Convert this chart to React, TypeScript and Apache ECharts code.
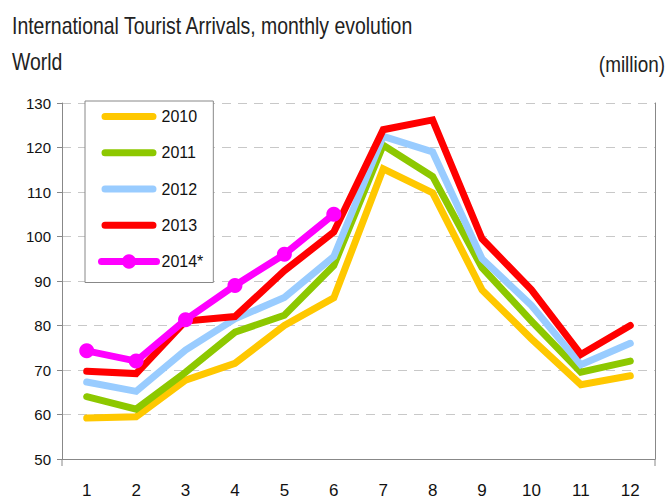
import React, { useEffect, useRef } from "react";
import * as echarts from "echarts";

const months = ["1", "2", "3", "4", "5", "6", "7", "8", "9", "10", "11", "12"];
const s2010 = [59.2, 59.5, 67.7, 71.5, 80, 86.2, 115.2, 109.8, 88, 77, 66.7, 68.7];
const s2011 = [64, 61.2, 69.5, 78.5, 82.3, 93.5, 120.5, 113.5, 93, 81, 69.5, 72];
const s2012 = [67.3, 65.2, 74.5, 81.5, 86.3, 95.5, 122.5, 119, 95, 84.5, 71.2, 76];
const s2013 = [69.7, 69.2, 81, 82, 92.3, 101, 124, 126.2, 99.5, 88, 73.5, 80];
const s2014 = [74.3, 72, 81.3, 89, 96, 105];
const seriesNames = ["2010", "2011", "2012", "2013", "2014*"];
const colors = ["#FFC800", "#8DC800", "#99CCFF", "#FF0000", "#FF00FF"];

const FONT = "'Liberation Sans', Arial, sans-serif";
const BAR_ICON =
  "path://M0,0 L0.01,0 L0.01,0.01 Z M3.5,5.5 L51.5,5.5 A3.5,3.5 0 0 1 51.5,12.5 L3.5,12.5 A3.5,3.5 0 0 1 3.5,5.5 Z M54.99,18 L55,18 L55,17.99 Z";

export default function App() {
  const ref = useRef<HTMLDivElement>(null);
  useEffect(() => {
    if (!ref.current) return;
    const chart = echarts.init(ref.current, undefined, { renderer: "svg" });
    const data = [s2010, s2011, s2012, s2013, s2014];
    const series = data.map((d, i) => ({
      name: seriesNames[i],
      type: "line",
      data: d,
      yAxisIndex: 0,
      symbol: i === 4 ? "circle" : "none",
      symbolSize: 15,
      showSymbol: i === 4,
      itemStyle: { color: colors[i] },
      lineStyle: { color: colors[i], width: 7, cap: "round", join: "miter" },
      z: 2 + i,
    }));
    chart.setOption({
      animation: false,
      textStyle: { fontFamily: FONT },
      grid: { left: 62, right: 12, top: 103, bottom: 44 },
      graphic: [
        {
          type: "text",
          x: 12,
          y: 15,
          scaleX: 0.845,
          style: {
            text: "International Tourist Arrivals, monthly evolution",
            font: `23px ${FONT}`,
            fill: "#222",
            verticalAlign: "top",
            align: "left",
          },
        },
        {
          type: "text",
          x: 12,
          y: 51,
          scaleX: 0.845,
          style: { text: "World", font: `23px ${FONT}`, fill: "#222", verticalAlign: "top", align: "left" },
        },
        {
          type: "text",
          x: 665,
          y: 53,
          scaleX: 0.86,
          style: { text: "(million)", font: `22px ${FONT}`, fill: "#222", verticalAlign: "top", align: "right" },
        },
        { type: "line", shape: { x1: 62, y1: 459, x2: 62, y2: 466 }, style: { stroke: "#888", lineWidth: 1 } },
        { type: "line", shape: { x1: 655, y1: 459, x2: 655, y2: 466 }, style: { stroke: "#888", lineWidth: 1 } },
      ],
      legend: {
        orient: "vertical",
        left: 85,
        top: 101,
        padding: [6.5, 10, 12, 13],
        itemWidth: 55,
        itemHeight: 18,
        itemGap: 18.25,
        borderColor: "#888",
        borderWidth: 1,
        borderRadius: 0,
        backgroundColor: "#fff",
        lineStyle: { width: 7, cap: "round" },
        textStyle: { fontSize: 16, lineHeight: 18, color: "#111", fontFamily: FONT },
        data: seriesNames.map((n, i) => (i < 4 ? { name: n, icon: BAR_ICON } : { name: n })),
      },
      xAxis: {
        type: "category",
        data: months,
        boundaryGap: true,
        axisLine: { lineStyle: { color: "#888", width: 1 } },
        axisTick: { show: false },
        axisLabel: { fontSize: 17, color: "#111", margin: 23, fontFamily: FONT },
      },
      yAxis: [
        {
          type: "value",
          min: 50,
          max: 130,
          interval: 10,
          axisLine: { show: true, lineStyle: { color: "#888", width: 1 } },
          axisTick: { show: true, length: 5, lineStyle: { color: "#888" } },
          axisLabel: { fontSize: 15, color: "#111", margin: 11, fontFamily: FONT },
          splitLine: { show: true, lineStyle: { color: "#c8c8c8", type: [9, 7], width: 1 } },
        },
        {
          type: "value",
          min: 50,
          max: 130,
          interval: 10,
          position: "right",
          axisLine: { show: true, lineStyle: { color: "#888", width: 1 } },
          axisTick: { show: false },
          axisLabel: { show: false },
          splitLine: { show: false },
        },
      ],
      series,
    });
    return () => chart.dispose();
  }, []);
  return <div ref={ref} style={{ width: 667, height: 503, position: "absolute", left: 0, top: 0, background: "#fff" }} />;
}
